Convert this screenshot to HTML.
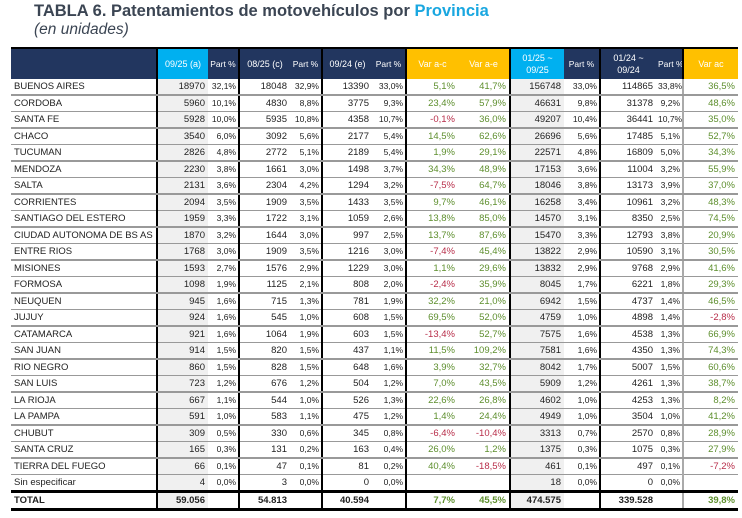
<!DOCTYPE html>
<html><head><meta charset="utf-8"><style>
body{margin:0;width:742px;height:518px;background:#fff;font-family:"Liberation Sans",sans-serif;position:relative;overflow:hidden}
#title{position:absolute;left:34px;top:2px;font-size:16.5px;font-weight:bold;color:#3b4553;white-space:nowrap}
#title span{color:#1aa7e0}
#sub{position:absolute;left:34px;top:21px;font-size:15.5px;font-style:italic;color:#3b4553}
table{position:absolute;left:11px;top:47px;border-collapse:collapse;table-layout:fixed;width:727px;font-size:9.5px;color:#222}
td,th{padding:0 3px;white-space:nowrap;overflow:hidden;vertical-align:middle}
th{height:30px;color:#fff;font-weight:normal;background:#22365f;font-size:9px;line-height:12px;padding:0 2px}
th.sm{font-size:8.5px}
thead tr{border-top:2px solid #000}
th.c{background:#00b0f0}th.y{background:#ffc000}
tbody td{height:15px;padding-top:0;padding-bottom:0;text-align:right;border-bottom:1px solid #999}
tbody td div{height:15px;line-height:15px}
tbody tr:nth-child(odd) td{border-bottom:2px solid #999}
tbody td:first-child{text-align:left}
td.g{background:#f0f0f0}
td.p{font-size:8.5px;padding:0 2px}
.bl{border-left:2px solid #000}
.gl{border-left:2px solid #aaa}
.pos{color:#5e8f2e}.neg{color:#b82e4a}
tr.total td{font-weight:bold;border-top:3px solid #000;border-bottom:3px solid #000}
</style></head><body>
<div id="title">TABLA 6. Patentamientos de motovehículos por <span>Provincia</span></div>
<div id="sub">(en unidades)</div>
<table>
<colgroup><col style="width:146px"><col style="width:51px"><col style="width:31px"><col style="width:51px"><col style="width:32px"><col style="width:50px"><col style="width:34px"><col style="width:52px"><col style="width:52px"><col style="width:54px"><col style="width:36px"><col style="width:56px"><col style="width:27px"><col style="width:55px"></colgroup>
<thead><tr>
<th></th>
<th class="c bl">09/25 (a)</th>
<th class="sm">Part %</th>
<th class="bl">08/25 (c)</th>
<th class="sm">Part %</th>
<th class="bl">09/24 (e)</th>
<th class="sm">Part %</th>
<th class="y bl">Var a-c</th>
<th class="y">Var a-e</th>
<th class="c bl">01/25 ~<br>09/25</th>
<th class="sm">Part %</th>
<th class="bl">01/24 ~<br>09/24</th>
<th class="sm">Part %</th>
<th class="y bl">Var ac</th>
</tr></thead>
<tbody id="tb"></tbody></table>
<script>
const provinces=["BUENOS AIRES","CORDOBA","SANTA FE","CHACO","TUCUMAN","MENDOZA","SALTA","CORRIENTES","SANTIAGO DEL ESTERO","CIUDAD AUTONOMA DE BS AS","ENTRE RIOS","MISIONES","FORMOSA","NEUQUEN","JUJUY","CATAMARCA","SAN JUAN","RIO NEGRO","SAN LUIS","LA RIOJA","LA PAMPA","CHUBUT","SANTA CRUZ","TIERRA DEL FUEGO","Sin especificar","TOTAL"];
const rows=[
["18970","32,1%","18048","32,9%","13390","33,0%","5,1%","41,7%","156748","33,0%","114865","33,8%","36,5%"],
["5960","10,1%","4830","8,8%","3775","9,3%","23,4%","57,9%","46631","9,8%","31378","9,2%","48,6%"],
["5928","10,0%","5935","10,8%","4358","10,7%","-0,1%","36,0%","49207","10,4%","36441","10,7%","35,0%"],
["3540","6,0%","3092","5,6%","2177","5,4%","14,5%","62,6%","26696","5,6%","17485","5,1%","52,7%"],
["2826","4,8%","2772","5,1%","2189","5,4%","1,9%","29,1%","22571","4,8%","16809","5,0%","34,3%"],
["2230","3,8%","1661","3,0%","1498","3,7%","34,3%","48,9%","17153","3,6%","11004","3,2%","55,9%"],
["2131","3,6%","2304","4,2%","1294","3,2%","-7,5%","64,7%","18046","3,8%","13173","3,9%","37,0%"],
["2094","3,5%","1909","3,5%","1433","3,5%","9,7%","46,1%","16258","3,4%","10961","3,2%","48,3%"],
["1959","3,3%","1722","3,1%","1059","2,6%","13,8%","85,0%","14570","3,1%","8350","2,5%","74,5%"],
["1870","3,2%","1644","3,0%","997","2,5%","13,7%","87,6%","15470","3,3%","12793","3,8%","20,9%"],
["1768","3,0%","1909","3,5%","1216","3,0%","-7,4%","45,4%","13822","2,9%","10590","3,1%","30,5%"],
["1593","2,7%","1576","2,9%","1229","3,0%","1,1%","29,6%","13832","2,9%","9768","2,9%","41,6%"],
["1098","1,9%","1125","2,1%","808","2,0%","-2,4%","35,9%","8045","1,7%","6221","1,8%","29,3%"],
["945","1,6%","715","1,3%","781","1,9%","32,2%","21,0%","6942","1,5%","4737","1,4%","46,5%"],
["924","1,6%","545","1,0%","608","1,5%","69,5%","52,0%","4759","1,0%","4898","1,4%","-2,8%"],
["921","1,6%","1064","1,9%","603","1,5%","-13,4%","52,7%","7575","1,6%","4538","1,3%","66,9%"],
["914","1,5%","820","1,5%","437","1,1%","11,5%","109,2%","7581","1,6%","4350","1,3%","74,3%"],
["860","1,5%","828","1,5%","648","1,6%","3,9%","32,7%","8042","1,7%","5007","1,5%","60,6%"],
["723","1,2%","676","1,2%","504","1,2%","7,0%","43,5%","5909","1,2%","4261","1,3%","38,7%"],
["667","1,1%","544","1,0%","526","1,3%","22,6%","26,8%","4602","1,0%","4253","1,3%","8,2%"],
["591","1,0%","583","1,1%","475","1,2%","1,4%","24,4%","4949","1,0%","3504","1,0%","41,2%"],
["309","0,5%","330","0,6%","345","0,8%","-6,4%","-10,4%","3313","0,7%","2570","0,8%","28,9%"],
["165","0,3%","131","0,2%","163","0,4%","26,0%","1,2%","1375","0,3%","1075","0,3%","27,9%"],
["66","0,1%","47","0,1%","81","0,2%","40,4%","-18,5%","461","0,1%","497","0,1%","-7,2%"],
["4","0,0%","3","0,0%","0","0,0%","","","18","0,0%","0","0,0%",""],
["59.056","","54.813","","40.594","","7,7%","45,5%","474.575","","339.528","","39,8%"]];
const tb=document.getElementById('tb');
const borderCols={0:'bl',2:'bl',4:'bl',6:'bl',8:'bl',10:'bl',12:'gl'};
provinces.forEach((p,i)=>{
  const tr=document.createElement('tr');
  
  
  if(p==='TOTAL')tr.className='total';
  const td0=document.createElement('td');
  td0.innerHTML='<div></div>';td0.firstChild.textContent=p;
  
  
  tr.appendChild(td0);
  rows[i].forEach((v,j)=>{
    const td=document.createElement('td');
    const d=document.createElement('div');d.textContent=v;td.appendChild(d);
    
    
    const cls=[];
    if(borderCols[j])cls.push(borderCols[j]);
    if(j===0||j===8)cls.push('g');
    if([1,3,5,9,11].includes(j))cls.push('p');
    if([6,7,12].includes(j)&&v)cls.push(v[0]==='-'?'neg':'pos');
    td.className=cls.join(' ');
    tr.appendChild(td);
  });
  tb.appendChild(tr);
});
</script>
</body></html>
